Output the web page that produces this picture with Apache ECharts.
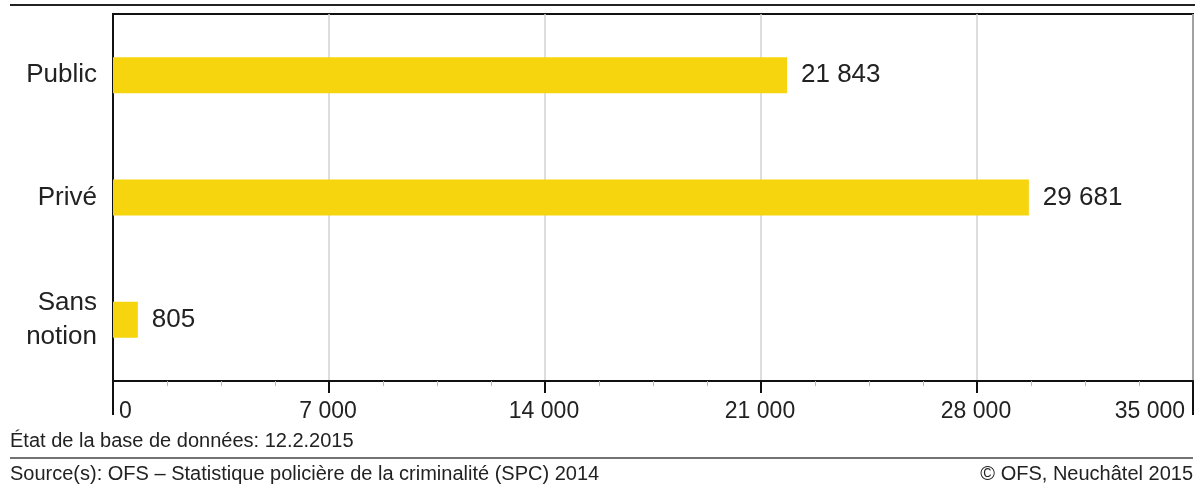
<!DOCTYPE html>
<html>
<head>
<meta charset="utf-8">
<script src="https://cdn.jsdelivr.net/npm/echarts@6/dist/echarts.min.js"></script>
<style>
  html, body { margin: 0; padding: 0; background: #fff; }
  #chart { width: 1199px; height: 488px; }
</style>
</head>
<body>
<div id="chart"></div>
<script>
const categories = ['Public', 'Privé', 'Sans\nnotion']
const values = [21843, 29681, 805]
const axisMax = 35000
const axisStep = 7000

const fmt = v => String(v).replace(/\B(?=(\d{3})+(?!\d))/g, ' ')
const font = 'Liberation Sans, Arial, sans-serif'

const chart = echarts.init(document.getElementById('chart'))

const option = {
  animation: false,
  textStyle: { fontFamily: font },
  grid: {
    left: 113,
    right: 6,
    top: 14,
    bottom: 107,
    show: true,
    borderColor: '#111',
    borderWidth: 2,
    containLabel: false
  },
  xAxis: [
    {
      type: 'value',
      min: 0,
      max: axisMax,
      interval: axisStep,
      axisLine: { show: true, lineStyle: { color: '#111', width: 2 } },
      axisTick: { show: true, length: 12, lineStyle: { color: '#111', width: 2 } },
      minorTick: { show: true, splitNumber: 4, length: 5, lineStyle: { color: '#b8b8b8', width: 1 } },
      splitLine: { show: true, lineStyle: { color: '#d2d2d2', width: 1.5 } },
      axisLabel: {
        margin: 19,
        fontSize: 23,
        color: '#222',
        alignMinLabel: 'left',
        alignMaxLabel: 'right',
        padding: [0, 8, 0, 6],
        formatter: v => fmt(v)
      }
    },
    {
      // long end ticks at 0 and max
      type: 'value',
      min: 0,
      max: axisMax,
      interval: axisMax,
      position: 'bottom',
      axisLine: { show: false },
      axisTick: { show: true, length: 34, lineStyle: { color: '#111', width: 2 } },
      splitLine: { show: false },
      axisLabel: { show: false }
    }
  ],
  yAxis: {
    type: 'category',
    data: categories,
    inverse: true,
    axisLine: { show: true, lineStyle: { color: '#111', width: 2 } },
    axisTick: { show: false },
    axisLabel: {
      margin: 16,
      fontSize: 26,
      color: '#222',
      align: 'right',
      lineHeight: 34
    }
  },
  series: [
    {
      type: 'bar',
      data: values,
      barWidth: 36,
      itemStyle: { color: '#f6d50f' },
      label: {
        show: true,
        position: 'right',
        distance: 14,
        fontSize: 26,
        color: '#222',
        formatter: p => fmt(p.value)
      }
    }
  ],
  graphic: [
    { type: 'line', shape: { x1: 10, y1: 5, x2: 1195, y2: 5 }, style: { stroke: '#222', lineWidth: 2 } },
    { type: 'line', shape: { x1: 10, y1: 458, x2: 1193, y2: 458 }, style: { stroke: '#444', lineWidth: 1.5 } },
    { type: 'text', left: 10, top: 431, style: { text: 'État de la base de données: 12.2.2015', fontSize: 20, fill: '#222', fontFamily: font } },
    { type: 'text', left: 10, top: 464, style: { text: 'Source(s): OFS – Statistique policière de la criminalité (SPC) 2014', fontSize: 20, fill: '#222', fontFamily: font } },
    { type: 'text', right: 6, top: 464, style: { text: '© OFS, Neuchâtel 2015', fontSize: 20, fill: '#222', fontFamily: font } }
  ]
}

chart.setOption(option)
</script>
</body>
</html>
